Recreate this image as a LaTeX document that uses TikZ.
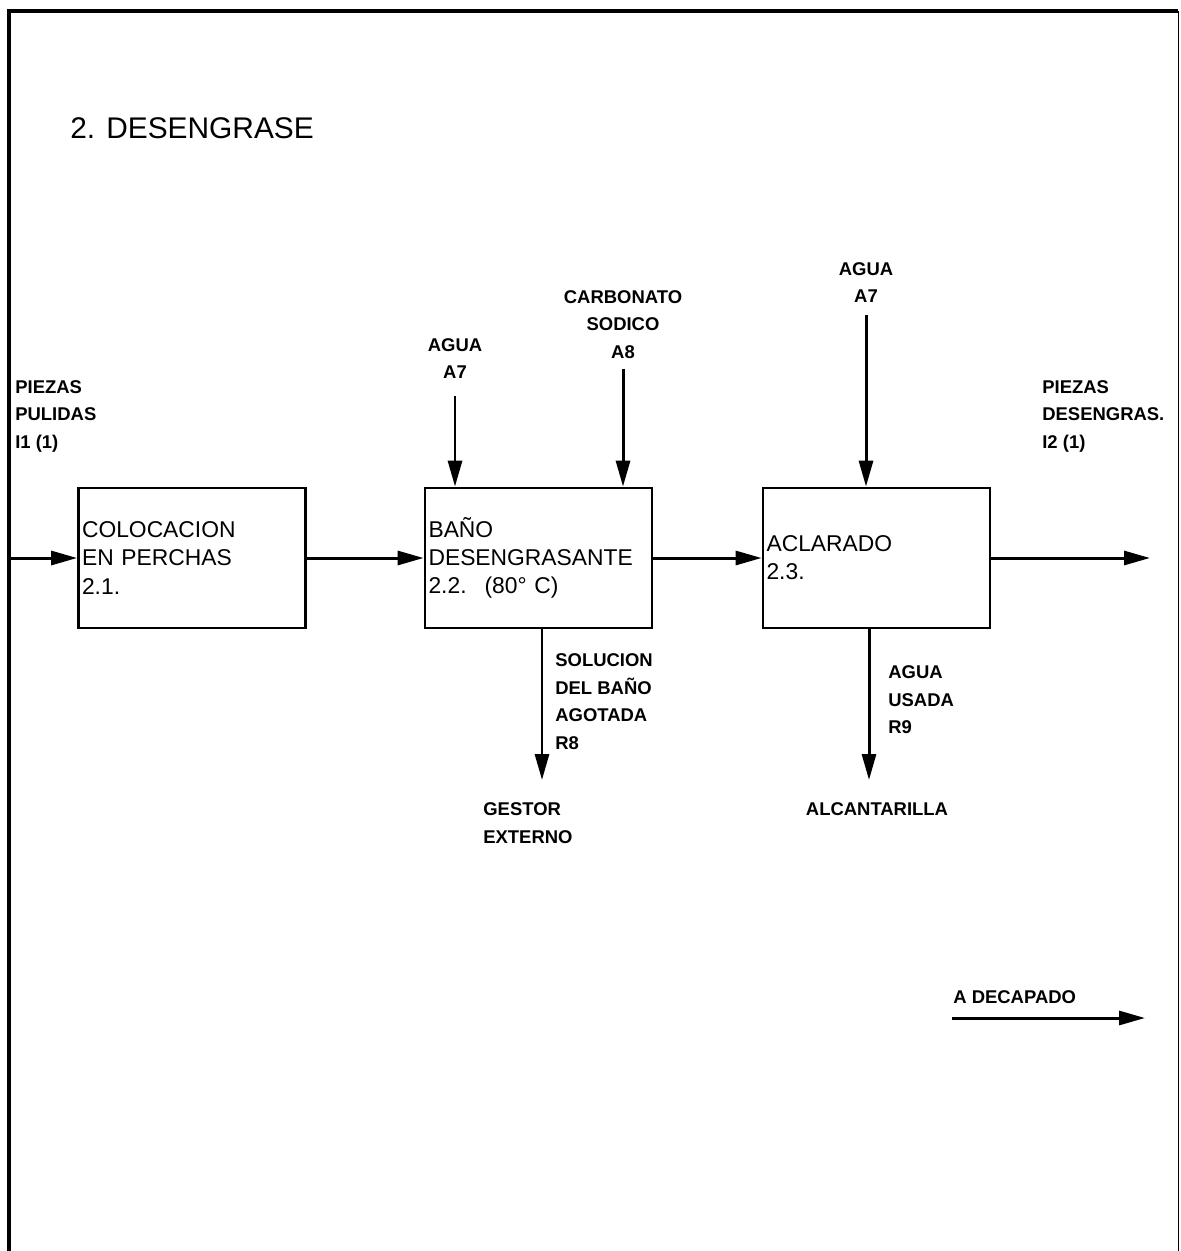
\documentclass[tikz,border=0pt]{standalone}
\usepackage{fontspec}
\setmainfont{Liberation Sans}
\usetikzlibrary{arrows.meta}

\begin{document}
\begin{tikzpicture}[
    x=0.02cm,
    y=-0.02cm,
    >={Triangle[length=0.52cm,width=0.28cm]},
    box/.style={
        draw,
        line width=1.6pt,
        text width=4.4cm,
        inner xsep=2pt,
        minimum height=2.8cm,
        align=left,
        font=\fontsize{13}{16}\selectfont
    },
    lbl/.style={
        inner sep=0pt,
        font=\bfseries\fontsize{10.5}{15.8}\selectfont
    },
    arrow/.style={
        ->,
        line width=1.7pt
    },
    frame/.style={
        line width=1.8pt
    }]

\useasboundingbox (0,0) rectangle (1180,1251);

% Marco
\draw[frame] (9,1251) -- (9,11) -- (1178,11);
\draw[line width=0.5pt] (1178,11) -- (1178,1251);

% Titulo
\node[
    anchor=north west,
    inner sep=0pt,
    font=\fontsize{17}{20}\selectfont
] (titulo) at (70,117)
{2. DESENGRASE};


% Etapas
\node[box] (colocacion) at (192,558)
{COLOCACION\\EN PERCHAS\\2.1.};

\node[box] (bano) at (538.5,558)
{BAÑO\\DESENGRASANTE\\2.2.\hspace{0.36cm}(80° C)};

\node[box] (aclarado) at (876.5,558)
{ACLARADO\\2.3.};


% Entradas
\node[lbl, anchor=north west, align=left] (piezasIn) at (15,380)
{PIEZAS\\PULIDAS\\I1 (1)};

\node[lbl, anchor=north, align=center] (aguaBano) at (455,338)
{AGUA\\A7};

\node[lbl, anchor=north, align=center] (carbonato) at (623,290)
{CARBONATO\\SODICO\\A8};

\node[lbl, anchor=north, align=center] (aguaAcl) at (866,262)
{AGUA\\A7};


% Salidas
\node[lbl, anchor=north west, align=left] (piezasOut) at (1042,380)
{PIEZAS\\DESENGRAS.\\I2 (1)};

\node[lbl, anchor=north west, align=left] (solucion) at (555,653)
{SOLUCION\\DEL BAÑO\\AGOTADA\\R8};

\node[lbl, anchor=north west, align=left] (aguaUsada) at (888,665)
{AGUA\\USADA\\R9};

\node[lbl, anchor=north west, align=left] (gestor) at (483,802)
{GESTOR\\EXTERNO};

\node[lbl, anchor=north] (alcantarilla) at (877,802)
{ALCANTARILLA};

\node[lbl, anchor=north west] (decapado) at (953,990)
{A DECAPADO};


% Flechas de proceso
\coordinate (entrada) at (9,558);
\coordinate (salida) at (1150,558);

\draw[arrow] (entrada) -- (colocacion);
\draw[arrow] (colocacion) -- (bano);
\draw[arrow] (bano) -- (aclarado);
\draw[arrow] (aclarado) -- (salida);


% Flechas de entrada
\draw[arrow, shorten <=0.34cm]
(aguaBano.south) -- (aguaBano.south |- bano.north);

\draw[arrow, shorten <=0.2cm]
(carbonato.south) -- (carbonato.south |- bano.north);

\draw[arrow, shorten <=0.24cm]
(aguaAcl.south) -- (aguaAcl.south |- aclarado.north);


% Flechas de residuos
\draw[arrow, shorten >=0.44cm]
([xshift=0.07cm]bano.south)
-- ([xshift=0.07cm]bano.south |- gestor.north);

\draw[arrow, shorten >=0.44cm]
([xshift=-0.15cm]aclarado.south)
-- ([xshift=-0.15cm]aclarado.south |- alcantarilla.north);


% A decapado
\coordinate (decIni) at (952,1018);
\coordinate (decFin) at (1145,1018);

\draw[arrow] (decIni) -- (decFin);

\end{tikzpicture}
\end{document}
